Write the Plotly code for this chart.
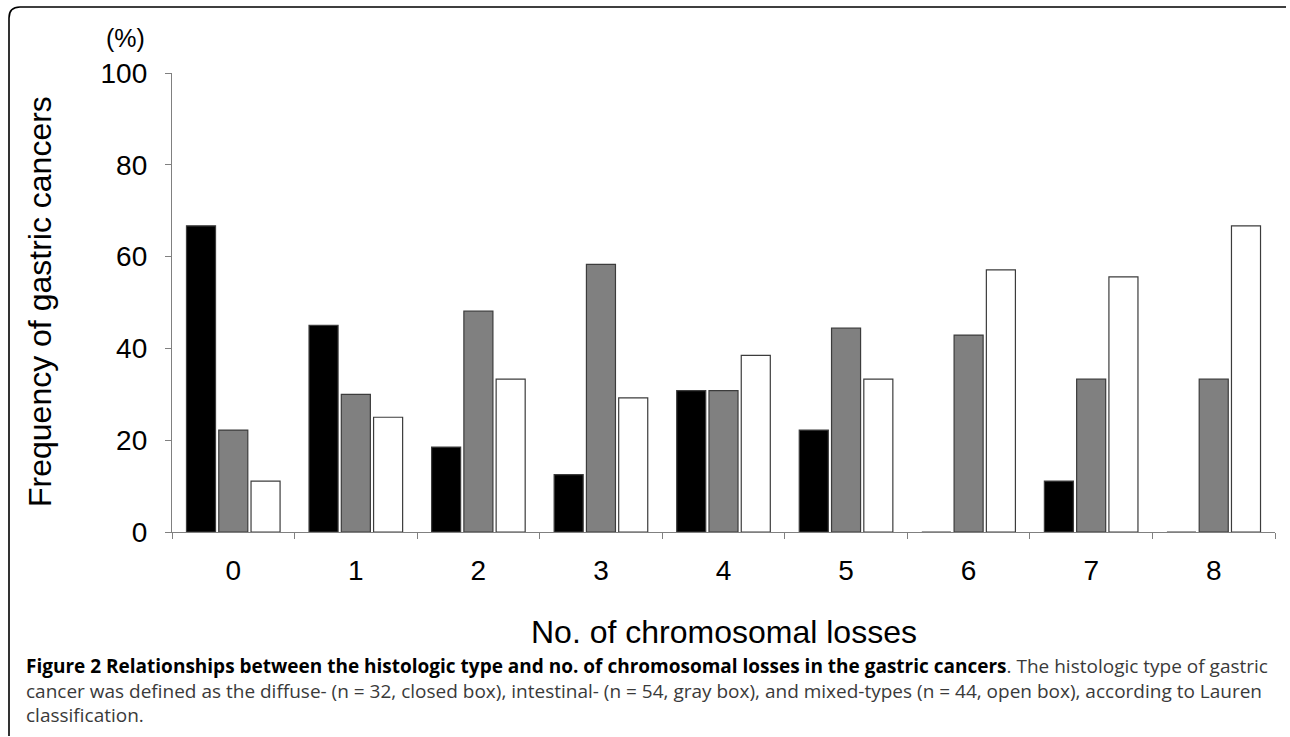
import plotly.graph_objects as go

# ---- data ----
categories = ["0", "1", "2", "3", "4", "5", "6", "7", "8"]
diffuse = [66.7, 45.0, 18.5, 12.5, 30.8, 22.2, 0.0, 11.1, 0.0]        # closed box
intestinal = [22.2, 30.0, 48.1, 58.3, 30.8, 44.4, 42.9, 33.3, 33.3]   # gray box
mixed = [11.1, 25.0, 33.3, 29.2, 38.5, 33.3, 57.1, 55.6, 66.7]        # open box
y_ticks = [0, 20, 40, 60, 80, 100]

W, H = 1290, 737
L, R, T, B = 172, 1275, 73, 532  # plot area in pixels


def px(x):
    return (x - L) / (R - L)


def py(y):
    return (B - y) / (B - T)


fig = go.Figure()
edge = dict(color="#3c3c3c", width=1.2)
fig.add_trace(go.Bar(x=categories, y=diffuse, name="diffuse",
                     marker=dict(color="#000000", line=edge)))
fig.add_trace(go.Bar(x=categories, y=intestinal, name="intestinal",
                     marker=dict(color="#808080", line=edge)))
fig.add_trace(go.Bar(x=categories, y=mixed, name="mixed",
                     marker=dict(color="#ffffff", line=edge)))

axis_font = dict(family="Liberation Sans, Arial, sans-serif", size=28, color="#000000")

fig.update_layout(
    width=W, height=H,
    margin=dict(l=L, r=W - R, t=T, b=H - B, pad=0),
    paper_bgcolor="white", plot_bgcolor="white",
    barmode="group", bargap=0.21, bargroupgap=0.1,
    showlegend=False,
    xaxis=dict(
        type="category", tickson="boundaries", ticks="outside", ticklen=6,
        tickcolor="#808080", tickwidth=1.3, showline=True, linecolor="#808080",
        linewidth=1.3, showgrid=False, zeroline=False, tickfont=axis_font,
        ticklabelstandoff=13,
    ),
    yaxis=dict(
        range=[0, 100], tickvals=y_ticks, ticks="outside", ticklen=6,
        tickcolor="#808080", tickwidth=1.3, showline=True, linecolor="#808080",
        linewidth=1.3, showgrid=False, zeroline=False, tickfont=axis_font,
        ticklabelstandoff=12,
    ),
)

annotations = [
    dict(text="(%)", x=px(125), y=py(38), xref="paper", yref="paper",
         showarrow=False, xanchor="center", yanchor="middle",
         font=dict(family="Liberation Sans, Arial, sans-serif", size=25, color="#000")),
    dict(text="Frequency of gastric cancers", x=px(40), y=py(302), xref="paper", yref="paper",
         showarrow=False, xanchor="center", yanchor="middle", textangle=-90,
         font=dict(family="Liberation Sans, Arial, sans-serif", size=32, color="#000")),
    dict(text="No. of chromosomal losses", x=px(724), y=py(632), xref="paper", yref="paper",
         showarrow=False, xanchor="center", yanchor="middle",
         font=dict(family="Liberation Sans, Arial, sans-serif", size=32, color="#000")),
]

cap_font = dict(family="Open Sans, Noto Sans, sans-serif", size=19, color="#3a3a3a")
caption_lines = [
    "<b style='color:#000'>Figure 2 Relationships between the histologic type and no. of chromosomal losses in the gastric cancers</b>. The histologic type of gastric",
    "cancer was defined as the diffuse- (n = 32, closed box), intestinal- (n = 54, gray box), and mixed-types (n = 44, open box), according to Lauren",
    "classification.",
]
annotations.append(dict(text="<br>".join(caption_lines), x=px(24), y=py(690),
                        xref="paper", yref="paper", showarrow=False,
                        xanchor="left", yanchor="middle", align="left", font=cap_font))
fig.update_layout(annotations=annotations)

# figure frame (rounded top-left corner)
path = (f"M {px(1286)},{py(7)} L {px(20)},{py(7)} "
        f"Q {px(9)},{py(7)} {px(9)},{py(18)} L {px(9)},{py(736)}")
fig.add_shape(type="path", path=path, xref="paper", yref="paper",
              line=dict(color="#000000", width=1.6), layer="above")

fig.write_html("out.html", config={"displayModeBar": False},
               post_script="document.body.style.margin='0';document.body.style.overflow='hidden';")
